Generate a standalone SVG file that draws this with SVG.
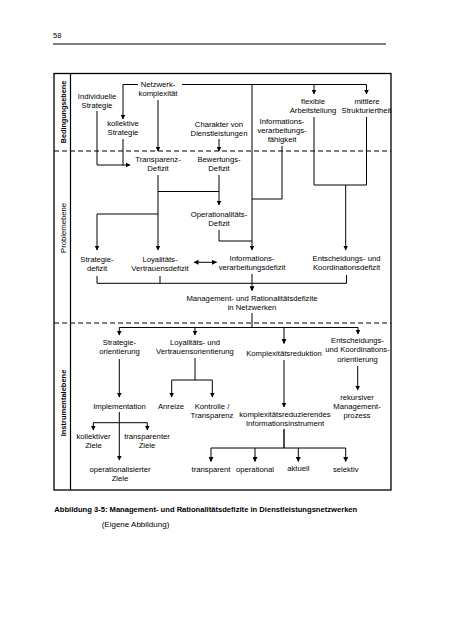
<svg xmlns="http://www.w3.org/2000/svg" width="452" height="640" viewBox="0 0 452 640">
<style>
text{font-family:"Liberation Sans",Arial,sans-serif;font-size:7.7px;fill:#000;text-anchor:middle}
.b{font-weight:bold}
.l{text-anchor:start}
.ln{fill:none;stroke:#000;stroke-width:1}
.dash{fill:none;stroke:#000;stroke-width:1;stroke-dasharray:5,3}
</style>
<defs>
<marker id="ah" markerWidth="5" markerHeight="5" refX="4.5" refY="2.5" orient="auto" markerUnits="userSpaceOnUse">
<path d="M0,0 L5,2.5 L0,5 Z" fill="#000"/>
</marker>
<marker id="as" markerWidth="5" markerHeight="5" refX="0.5" refY="2.5" orient="auto" markerUnits="userSpaceOnUse">
<path d="M5,0 L0,2.5 L5,5 Z" fill="#000"/>
</marker>
</defs>
<rect width="452" height="640" fill="#fff"/>
<g id="header">
<text class="l" x="53" y="38" style="font-size:7.5px">58</text>
<line x1="53" y1="44" x2="386" y2="44" stroke="#000" stroke-width="1.2"/>
</g>
<g id="frame">
<rect x="54" y="73.5" width="337" height="416.5" fill="none" stroke="#000" stroke-width="1.3"/>
<line x1="70.5" y1="73.5" x2="70.5" y2="490" stroke="#000" stroke-width="1.2"/>
<line class="dash" x1="54" y1="151" x2="391" y2="151"/>
<line class="dash" x1="54" y1="323" x2="391" y2="323"/>
<text class="b" transform="translate(65.5,112) rotate(-90)" style="font-size:7.2px">Bedingungsebene</text>
<text transform="translate(65.5,228) rotate(-90)" style="font-size:7.7px">Problemebene</text>
<text class="b" transform="translate(65.5,403) rotate(-90)" style="font-size:7.5px">Instrumentalebene</text>
</g>
<g id="connectors">
<path class="ln" d="M138,84.5 H123 V119" marker-end="url(#ah)"/>
<path class="ln" d="M182,84.5 H366.5"/>
<path class="ln" d="M314,84.5 V94" marker-end="url(#ah)"/>
<path class="ln" d="M366.5,84.5 V94" marker-end="url(#ah)"/>
<path class="ln" d="M252,84.5 V250" marker-end="url(#ah)"/>
<path class="ln" d="M158,100 V151" marker-end="url(#ah)"/>
<path class="ln" d="M97,111 V165 H130" marker-end="url(#ah)"/>
<path class="ln" d="M123,139 V165"/>
<path class="ln" d="M219,139 V151" marker-end="url(#ah)"/>
<path class="ln" d="M158,175 V250" marker-end="url(#ah)"/>
<path class="ln" d="M158,191.5 H219"/>
<path class="ln" d="M219,175 V205" marker-end="url(#ah)"/>
<path class="ln" d="M158,214 H97 V250" marker-end="url(#ah)"/>
<path class="ln" d="M219,230 V241 H252"/>
<path class="ln" d="M282,146 V199 H252"/>
<path class="ln" d="M314,117 V185 H366.5 V117"/>
<path class="ln" d="M345.7,185 V250" marker-end="url(#ah)"/>
<path class="ln" d="M194,262.3 H216.5" marker-start="url(#as)" marker-end="url(#ah)"/>
<path class="ln" d="M97,276 V283.3 H346.5 V275"/>
<path class="ln" d="M160,276 V283.3"/>
<path class="ln" d="M252,274 V290.7" marker-end="url(#ah)"/>
<path class="ln" d="M252,313 V327.5"/>
<path class="ln" d="M119.3,327.5 H358"/>
<path class="ln" d="M119.3,327.5 V335" marker-end="url(#ah)"/>
<path class="ln" d="M195,327.5 V335" marker-end="url(#ah)"/>
<path class="ln" d="M284,327.5 V343.5" marker-end="url(#ah)"/>
<path class="ln" d="M358,327.5 V334" marker-end="url(#ah)"/>
<path class="ln" d="M195,358 V380"/>
<path class="ln" d="M171.7,380 H212.3"/>
<path class="ln" d="M171.7,380 V397" marker-end="url(#ah)"/>
<path class="ln" d="M212.3,380 V397" marker-end="url(#ah)"/>
<path class="ln" d="M119.3,359 V397" marker-end="url(#ah)"/>
<path class="ln" d="M284,360 V407" marker-end="url(#ah)"/>
<path class="ln" d="M357.7,366 V390" marker-end="url(#ah)"/>
<path class="ln" d="M119.3,412 V460" marker-end="url(#ah)"/>
<path class="ln" d="M93.3,422.7 H147.3"/>
<path class="ln" d="M93.3,422.7 V430" marker-end="url(#ah)"/>
<path class="ln" d="M147.3,422.7 V430" marker-end="url(#ah)"/>
<path class="ln" d="M284,429 V448" style="stroke-width:1.4"/>
<path class="ln" d="M211,448 H345.7"/>
<path class="ln" d="M211,448 V461.5" marker-end="url(#ah)"/>
<path class="ln" d="M255,448 V461.5" marker-end="url(#ah)"/>
<path class="ln" d="M298.3,448 V461.5" marker-end="url(#ah)"/>
<path class="ln" d="M345.7,448 V461.5" marker-end="url(#ah)"/>
</g>
<g id="n-netzwerk"><text x="158" y="87">Netzwerk-</text><text x="158" y="96">komplexität</text></g>
<g id="n-individuelle"><text x="97" y="98.5">Individuelle</text><text x="97" y="107.5">Strategie</text></g>
<g id="n-kollektive"><text x="123" y="126">kollektive</text><text x="123" y="135">Strategie</text></g>
<g id="n-charakter"><text x="219" y="126.5">Charakter von</text><text x="219" y="135.5">Dienstleistungen</text></g>
<g id="n-flexible"><text x="313" y="104">flexible</text><text x="313" y="113">Arbeitsteilung</text></g>
<g id="n-mittlere"><text x="367" y="104">mittlere</text><text x="366.5" y="113">Strukturiertheit</text></g>
<g id="n-infofaehigkeit"><text x="282" y="124">Informations-</text><text x="282" y="133">verarbeitungs-</text><text x="282" y="142">fähigkeit</text></g>
<g id="n-transparenz"><text x="158" y="161.5">Transparenz-</text><text x="158" y="170.5">Defizit</text></g>
<g id="n-bewertung"><text x="219" y="161.5">Bewertungs-</text><text x="219" y="170.5">Defizit</text></g>
<g id="n-operational"><text x="219" y="216.5">Operationalitäts-</text><text x="219" y="225.5">Defizit</text></g>
<g id="n-strategiedefizit"><text x="97" y="261.5">Strategie-</text><text x="97" y="270.5">defizit</text></g>
<g id="n-loyalitaet"><text x="160" y="261.5">Loyalitäts-</text><text x="160" y="270.5">Vertrauensdefizit</text></g>
<g id="n-infodefizit"><text x="252" y="261">Informations-</text><text x="252" y="270">verarbeitungsdefizit</text></g>
<g id="n-entscheidungsdefizit"><text x="346.5" y="261">Entscheidungs- und</text><text x="346.5" y="270">Koordinationsdefizit</text></g>
<g id="n-management"><text x="252" y="301">Management- und Rationalitätsdefizite</text><text x="252" y="310">in Netzwerken</text></g>
<g id="n-strategieorient"><text x="119.5" y="345">Strategie-</text><text x="119.5" y="354">orientierung</text></g>
<g id="n-loyalorient"><text x="195" y="345">Loyalitäts- und</text><text x="195" y="354">Vertrauensorientierung</text></g>
<g id="n-komplex"><text x="284" y="355.5">Komplexitätsreduktion</text></g>
<g id="n-entscheidorient"><text x="357.5" y="343">Entscheidungs-</text><text x="357.5" y="352">und Koordinations-</text><text x="357.5" y="361.5">orientierung</text></g>
<g id="n-rekursiv"><text x="357" y="399.5">rekursiver</text><text x="357" y="408.5">Management-</text><text x="357" y="417.5">prozess</text></g>
<g id="n-implementation"><text x="119.5" y="408.5">Implementation</text></g>
<g id="n-anreize"><text x="171" y="408.5">Anreize</text></g>
<g id="n-kontrolle"><text x="212" y="408.5">Kontrolle /</text><text x="212" y="417.5">Transparenz</text></g>
<g id="n-instrument"><text x="285" y="416.5">komplexitätsreduzierendes</text><text x="285" y="426">Informationsinstrument</text></g>
<g id="n-kollektiver"><text x="93.5" y="439">kollektiver</text><text x="93.5" y="448">Ziele</text></g>
<g id="n-transparenter"><text x="147" y="439">transparenter</text><text x="147" y="448">Ziele</text></g>
<g id="n-operationalisiert"><text x="120" y="471.5">operationalisierter</text><text x="120" y="480.5">Ziele</text></g>
<g id="n-transparent"><text x="211" y="471.5">transparent</text></g>
<g id="n-operational2"><text x="255" y="471.5">operational</text></g>
<g id="n-aktuell"><text x="298.3" y="470.5">aktuell</text></g>
<g id="n-selektiv"><text x="345.7" y="471.5">selektiv</text></g>
<g id="caption">
<text class="b l" x="54.3" y="511.5" style="font-size:7.6px">Abbildung 3-5: Management- und Rationalitätsdefizite in Dienstleistungsnetzwerken</text>
<text class="l" x="101.7" y="526.5" style="font-size:8px">(Eigene Abbildung)</text>
</g>
</svg>
